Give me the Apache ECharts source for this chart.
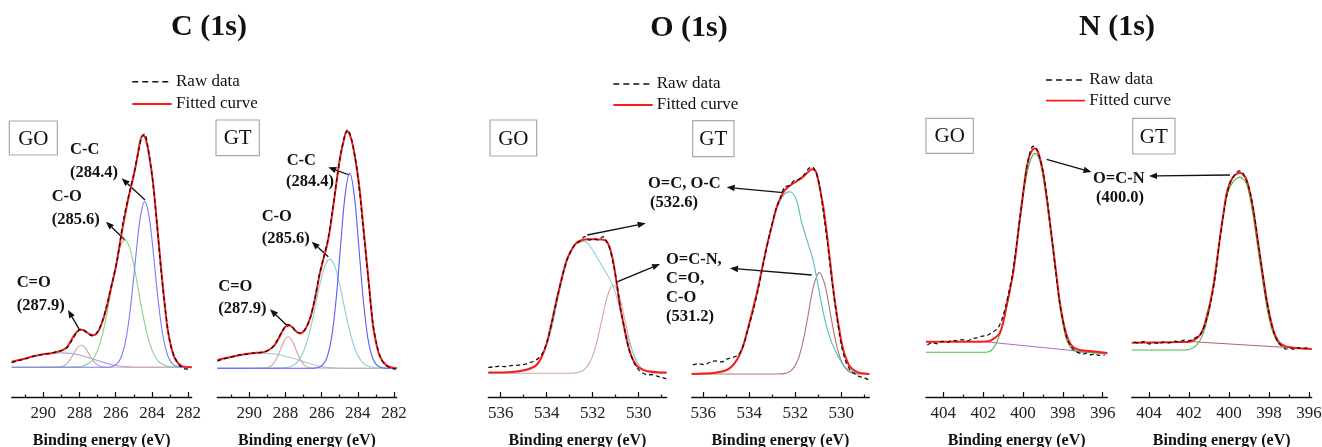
<!DOCTYPE html>
<html><head><meta charset="utf-8">
<script src="https://cdn.jsdelivr.net/npm/echarts@6/dist/echarts.min.js"></script>
<style>html,body{margin:0;padding:0;background:#fff}#c{width:1322px;height:447px}</style>
</head><body><div id="c"></div>
<script>
// ---------- tick labels ----------
const cMajor = [282, 284, 286, 288, 290];
const cMinor = [283, 285, 287, 289, 291];
const oMajor = [530, 532, 534, 536];
const oMinor = [529, 531, 533, 535];
const nMajor = [396, 398, 400, 402, 404];
const nMinor = [397, 399, 401, 403];

// ---------- C 1s, GO ----------
const cGO_fit = [[291.74,2.4],[291.0,3.8],[290.5,4.9],[290.0,5.6],[289.5,6.2],[289.0,7.2],[288.7,8.6],[288.45,11.8],[288.2,14.8],[287.95,16.3],[287.7,15.6],[287.45,14.3],[287.2,13.9],[286.95,15.8],[286.7,20.5],[286.5,26],[286.25,34.5],[286.0,43],[285.8,52],[285.6,61],[285.3,73],[285.0,83],[284.8,91],[284.65,97.5],[284.5,100],[284.35,98.5],[284.15,91],[283.95,80],[283.75,64],[283.55,47],[283.35,31],[283.15,17],[282.95,9],[282.75,4],[282.5,1.3],[282.25,0.3],[281.81,0]];
const cGO_raw = [[291.74,2.0],[291.4,2.8],[291.0,3.6],[290.6,4.6],[290.2,5.4],[289.8,5.8],[289.4,6.4],[289.0,7.2],[288.7,8.4],[288.4,11.8],[288.1,15.6],[287.85,16.4],[287.6,15.0],[287.3,13.6],[287.05,14.8],[286.8,18.5],[286.5,26.5],[286.2,36.5],[285.9,47],[285.6,62.5],[285.3,73.5],[285.0,83.5],[284.75,93],[284.55,99.5],[284.4,100.5],[284.25,96],[284.0,83],[283.75,64],[283.5,41.5],[283.25,24],[283.0,10.5],[282.75,4.5],[282.5,1.0],[282.25,-0.5],[282.0,-0.8],[281.85,-1.0]];
const cGO_CC = [[291.74,0],[286.4,0],[286.15,0.45],[285.9,1.7],[285.65,5.4],[285.4,13.7],[285.15,28.2],[284.9,47.2],[284.65,64.4],[284.4,71.4],[284.15,64.4],[283.9,47.2],[283.65,28.2],[283.4,13.7],[283.15,5.4],[282.9,1.7],[282.65,0.45],[282.4,0.1],[281.81,0]];
const cGO_CO = [[291.74,0],[288.0,0.2],[287.5,1.6],[287.25,3.6],[287.0,7.4],[286.75,13.7],[286.5,22.6],[286.25,33.3],[286.0,43.9],[285.75,51.9],[285.5,54.9],[285.25,51.9],[285.0,43.9],[284.75,33.3],[284.5,22.6],[284.25,13.7],[284.0,7.4],[283.75,3.6],[283.5,1.6],[283.0,0.2],[281.81,0]];
const cGO_CdO = [[291.74,0],[289.2,0.1],[288.9,0.6],[288.7,1.6],[288.5,3.5],[288.3,6.1],[288.1,8.6],[287.9,9.6],[287.7,8.6],[287.5,6.1],[287.3,3.5],[287.1,1.6],[286.9,0.6],[286.6,0.1],[281.81,0]];
const cGO_bg = [[291.74,2.4],[291.0,3.8],[290.5,4.8],[290.0,5.5],[289.5,6.0],[289.0,6.2],[288.5,6.0],[288.0,5.3],[287.5,4.2],[287.0,2.9],[286.5,1.7],[286.0,0.8],[285.5,0.3],[285.0,0.05],[284.5,0],[281.81,0]];

// ---------- C 1s, GT ----------
const cGT_fit = [[291.77,3.5],[291.0,4.8],[290.5,5.6],[290.0,6.2],[289.5,6.6],[289.2,6.8],[288.9,7.8],[288.6,9.8],[288.35,13],[288.1,16.5],[287.85,18.2],[287.6,17.2],[287.4,15.5],[287.2,14.7],[287.0,15.5],[286.8,18],[286.6,22],[286.35,30],[286.1,40],[285.85,47.5],[285.64,54],[285.4,66],[285.17,79],[285.0,88],[284.81,95],[284.6,100],[284.4,97.5],[284.26,93.4],[284.05,84],[283.88,74],[283.7,60],[283.52,46],[283.33,31],[283.15,17.5],[282.95,9.5],[282.78,5],[282.5,1.8],[282.23,0.6],[281.85,0]];
const cGT_raw = [[291.77,3.0],[291.45,3.9],[291.1,4.6],[290.75,5.2],[290.4,5.8],[290.05,6.0],[289.7,6.5],[289.35,6.7],[289.0,7.4],[288.7,9.0],[288.4,12.6],[288.15,16.0],[287.9,18.5],[287.65,17.6],[287.4,15.2],[287.15,14.9],[286.9,16.6],[286.65,20.8],[286.4,28.5],[286.15,38.5],[285.9,46.5],[285.65,54.5],[285.4,66.5],[285.15,80],[284.9,92],[284.7,98.5],[284.55,100.5],[284.35,96.5],[284.15,89],[283.95,78],[283.7,59],[283.45,40],[283.2,21],[282.95,9.8],[282.7,3.8],[282.45,1.2],[282.2,0.2],[281.9,-0.4]];
const cGT_CC = [[291.77,0],[286.45,0],[286.2,0.3],[285.95,1.3],[285.7,4.6],[285.45,12.9],[285.2,29.0],[284.95,51.8],[284.7,73.2],[284.45,82.2],[284.2,73.2],[283.95,51.8],[283.7,29.0],[283.45,12.9],[283.2,4.6],[282.95,1.3],[282.7,0.3],[282.45,0],[281.85,0]];
const cGT_CO = [[291.77,0],[288.05,0.2],[287.55,1.3],[287.3,3.0],[287.05,6.2],[286.8,11.5],[286.55,18.9],[286.3,27.9],[286.05,36.8],[285.8,43.5],[285.55,46],[285.3,43.5],[285.05,36.8],[284.8,27.9],[284.55,18.9],[284.3,11.5],[284.05,6.2],[283.8,3.0],[283.55,1.3],[283.05,0.2],[281.85,0]];
const cGT_CdO = [[291.77,0],[289.15,0.1],[288.85,0.8],[288.65,2.2],[288.45,4.8],[288.25,8.4],[288.05,11.9],[287.85,13.3],[287.65,11.9],[287.45,8.4],[287.25,4.8],[287.05,2.2],[286.85,0.8],[286.55,0.1],[281.85,0]];
const cGT_bg = [[291.77,3.5],[291.0,4.8],[290.5,5.6],[290.0,6.1],[289.5,6.4],[289.0,6.3],[288.5,5.9],[288.0,5.0],[287.5,4.0],[287.0,2.8],[286.5,1.6],[286.0,0.7],[285.5,0.2],[285.0,0],[281.85,0]];

// ---------- O 1s, GO ----------
const oGO_fit = [[536.54,0.5],[536.0,0.6],[535.5,1.0],[535.0,2.2],[534.7,3.8],[534.44,6.2],[534.2,13],[534.0,22.5],[533.8,37],[533.57,55],[533.35,71],[533.13,85],[532.9,93],[532.7,98],[532.45,100],[532.2,100.5],[531.9,100.5],[531.6,100.3],[531.47,100],[531.35,98],[531.25,94],[531.13,86],[531.03,76],[530.92,63],[530.81,50],[530.66,37],[530.52,25],[530.38,16],[530.24,10],[530.1,6],[529.95,3.8],[529.7,2],[529.5,1.3],[529.2,0.8],[528.78,0.5]];
const oGO_raw = [[536.54,4.5],[536.3,4.8],[536.05,5.4],[535.8,5.0],[535.55,5.8],[535.3,6.0],[535.05,6.4],[534.8,7.6],[534.55,9.2],[534.35,11.5],[534.15,16],[533.95,25.5],[533.75,40],[533.55,56],[533.3,74],[533.05,88],[532.8,96],[532.55,99],[532.35,102.5],[532.15,100],[531.95,101],[531.75,100],[531.55,102.5],[531.4,99],[531.25,93],[531.1,82],[530.95,68],[530.8,50],[530.6,32],[530.4,17],[530.2,8],[530.0,2.5],[529.8,0],[529.6,-1.2],[529.4,-1.0],[529.2,-2.2],[529.0,-3.0],[528.8,-4.2]];
const oGO_OC = [[536.54,0],[535.5,0.5],[535.0,1.5],[534.6,4],[534.3,10],[534.0,21],[533.75,36],[533.5,57],[533.2,79],[532.9,93],[532.6,98.5],[532.35,99],[532.1,95],[531.83,87.5],[531.4,75],[531.1,65],[530.8,47.5],[530.4,22.5],[529.95,5],[529.6,1],[529.2,0.2],[528.78,0]];
const oGO_OCN = [[536.54,0],[533.0,0],[532.85,0.2],[532.6,0.7],[532.35,2.9],[532.1,9.0],[531.85,21.5],[531.6,40.1],[531.35,58.4],[531.1,66.2],[530.85,58.4],[530.6,40.1],[530.35,21.5],[530.1,9.0],[529.85,2.9],[529.6,0.7],[529.35,0.2],[528.78,0]];

// ---------- O 1s, GT ----------
const oGT_fit = [[536.5,0],[536.0,0.2],[535.5,0.6],[535.0,1.8],[534.75,3.8],[534.54,6.8],[534.3,12.5],[534.11,19.9],[533.9,29],[533.67,39.4],[533.45,51],[533.24,62.2],[533.0,73],[532.8,81.7],[532.6,87],[532.44,89.9],[532.25,91.8],[532.08,93.2],[531.85,94.8],[531.65,96.4],[531.45,98.5],[531.28,100],[531.15,99.5],[531.07,98],[530.95,92],[530.85,86],[530.78,81.7],[530.63,69],[530.49,55.7],[530.35,42],[530.2,29.7],[530.05,19.5],[529.91,11.7],[529.75,6.5],[529.62,3.6],[529.4,1.5],[529.18,0.5],[528.78,0]];
const oGT_raw = [[536.45,4.4],[536.2,5.0],[535.95,4.6],[535.7,5.8],[535.45,6.4],[535.2,5.9],[534.95,7.4],[534.7,8.2],[534.47,9.3],[534.25,14],[534.05,22],[533.85,30],[533.6,42],[533.35,56],[533.1,69],[532.85,80],[532.65,86],[532.45,91.5],[532.25,92],[532.05,94.5],[531.85,95],[531.6,97.5],[531.4,100.5],[531.25,101],[531.1,98.5],[530.95,92.5],[530.8,81],[530.6,64],[530.4,45],[530.2,28.5],[530.0,14.5],[529.8,6],[529.6,1.8],[529.4,0],[529.2,-1.3],[529.0,-1.8],[528.8,-2.9]];
const oGT_OC = [[536.5,0],[535.5,0.5],[535.0,2],[534.54,6.5],[534.11,19.5],[533.67,39],[533.24,62],[532.8,81],[532.5,87.5],[532.23,89],[531.95,85],[531.72,74],[531.45,64],[531.21,55],[530.78,30],[530.5,18],[530.2,10],[529.85,3.5],[529.5,1],[529.0,0.2],[528.78,0]];
const oGT_OCN = [[536.5,0],[532.7,0],[532.45,0.3],[532.2,1.4],[531.95,5.2],[531.7,13.9],[531.45,28.1],[531.2,43],[530.95,49.5],[530.7,43],[530.45,28.1],[530.2,13.9],[529.95,5.2],[529.7,1.4],[529.45,0.3],[529.2,0],[528.78,0]];

// ---------- N 1s, GO ----------
const nGO_fit = [[404.87,5.2],[403.5,5.2],[402.5,5.2],[401.9,5.3],[401.67,5.6],[401.4,7.2],[401.17,9.3],[401.0,14.5],[400.84,22.4],[400.67,30],[400.5,38.7],[400.33,51],[400.17,64.8],[400.0,77.5],[399.84,89.3],[399.7,95.5],[399.59,98.3],[399.42,100],[399.3,99],[399.17,96],[399.0,88.5],[398.84,78],[398.67,65],[398.5,51.8],[398.33,38.5],[398.17,25.6],[398.0,16],[397.84,9.3],[397.67,5],[397.5,2.7],[397.2,1.3],[396.84,0.8],[396.3,0.3],[395.77,-0.3]];
const nGO_raw = [[404.8,3.6],[404.55,4.8],[404.3,4.2],[404.05,5.4],[403.8,4.9],[403.55,5.9],[403.3,5.5],[403.05,6.2],[402.8,5.6],[402.55,6.6],[402.3,7.2],[402.05,7.9],[401.8,8.3],[401.55,9.8],[401.3,11.5],[401.1,15],[400.9,21.5],[400.7,30],[400.5,40],[400.3,55],[400.1,70],[399.9,85],[399.7,96],[399.5,101],[399.35,100.5],[399.2,96.5],[399.0,89],[398.8,76],[398.6,60],[398.4,43],[398.2,27],[398.0,15.5],[397.8,7],[397.6,3],[397.4,0.8],[397.2,-0.3],[397.0,-0.9],[396.8,-0.4],[396.6,-1.2],[396.4,-0.8],[396.2,-1.5],[395.9,-1.4]];
const nGO_OCN = [[404.87,0],[402.5,0],[401.9,0.05],[401.67,0.4],[401.5,2],[401.34,4.4],[401.17,8.8],[401.0,14.2],[400.84,21],[400.67,29],[400.5,40],[400.34,51.8],[400.13,66],[399.92,81.2],[399.75,90],[399.59,95],[399.42,97.5],[399.3,97],[399.17,94.3],[399.0,86.5],[398.84,76.3],[398.67,63.5],[398.5,50.2],[398.33,37],[398.17,24],[398.0,14],[397.84,6.9],[397.67,3.2],[397.5,1.1],[397.2,0.2],[396.84,0],[396.3,-0.3],[395.77,-0.6]];
const nGO_bg = [[401.9,5.2],[395.77,-0.8]];

// ---------- N 1s, GT ----------
const nGT_fit = [[404.87,4.1],[403.5,4.3],[402.5,4.5],[401.96,4.7],[401.7,6],[401.45,8.5],[401.28,12.5],[401.12,18.8],[400.95,26.5],[400.79,35.7],[400.62,49],[400.45,63.9],[400.28,77],[400.12,88.4],[399.95,94.5],[399.79,97.7],[399.62,99.3],[399.45,100],[399.28,98.7],[399.12,95.9],[398.95,88.5],[398.79,79],[398.62,66],[398.45,52.6],[398.28,40],[398.12,28.2],[397.95,18.5],[397.79,11.3],[397.62,6.5],[397.45,3.8],[397.2,2.2],[396.95,1.5],[396.5,1.0],[395.87,0.6]];
const nGT_raw = [[404.75,4.5],[404.5,3.9],[404.25,4.8],[404.0,3.4],[403.75,4.2],[403.5,3.6],[403.25,4.6],[403.0,4.0],[402.75,5.0],[402.5,4.6],[402.25,5.6],[402.0,5.2],[401.75,6.6],[401.5,8.0],[401.3,11.5],[401.1,18.5],[400.9,28],[400.7,41],[400.5,59],[400.3,75],[400.1,88],[399.9,95.5],[399.7,99],[399.5,101],[399.35,100.5],[399.15,96],[398.95,89],[398.75,77],[398.55,61],[398.35,45],[398.15,30],[397.95,18],[397.75,9.5],[397.55,4.5],[397.35,2],[397.15,0.5],[396.95,1.2],[396.75,0.3],[396.55,1.4],[396.35,0.6],[396.15,1.2],[395.95,0.2]];
const nGT_OCN = [[404.87,0],[402.5,0],[402.1,0.1],[401.96,0.4],[401.8,1.2],[401.62,2.8],[401.45,5.5],[401.29,9.4],[401.12,16],[400.95,24.4],[400.79,37],[400.62,50.8],[400.41,67],[400.2,82.8],[400.0,91],[399.79,95],[399.62,96.8],[399.45,97.5],[399.28,96.3],[399.12,93.6],[398.95,85.5],[398.79,75.2],[398.62,62],[398.45,48.9],[398.28,36],[398.12,24.4],[397.95,15.5],[397.79,9.4],[397.62,5.2],[397.45,2.8],[397.2,1.8],[396.95,1.5],[396.5,1.0],[395.87,0.6]];
const nGT_bg = [[402.0,4.8],[395.87,0.6]];

// ---------- layout ----------
const chart = echarts.init(document.getElementById('c'));
const SERIF = '"Liberation Serif","Times New Roman",serif';
const AXIS_Y = 397;
const panels = [
  {left:11.7, right:191.7, xmin:281.81, xmax:291.74, top:112.1, ymin:-12.8, major:cMajor, minor:cMinor,
   comps:[[cGO_bg,'#a6a6e4'],[cGO_CdO,'#d6a2a2'],[cGO_CO,'#8fcf8f'],[cGO_CC,'#7b7bff']], fit:cGO_fit, raw:cGO_raw},
  {left:217.3, right:396.7, xmin:281.85, xmax:291.77, top:107.3, ymin:-12.1, major:cMajor, minor:cMinor,
   comps:[[cGT_bg,'#9fcfcf'],[cGT_CdO,'#d2a2a2'],[cGT_CO,'#8fd0d0'],[cGT_CC,'#5a5aff']], fit:cGT_fit, raw:cGT_raw},
  {left:488.3, right:666.7, xmin:528.78, xmax:536.54, top:226.7, ymin:-17.8, major:oMajor, minor:oMinor,
   comps:[[oGO_OCN,'#d2a8a8'],[oGO_OC,'#8fd3d3']], fit:oGO_fit, raw:oGO_raw},
  {left:691.7, right:869.3, xmin:528.78, xmax:536.5, top:148.8, ymin:-11.24, major:oMajor, minor:oMinor,
   comps:[[oGT_OCN,'#b07575'],[oGT_OC,'#5fb8c0']], fit:oGT_fit, raw:oGT_raw},
  {left:926, right:1107.3, xmin:395.77, xmax:404.87, top:127.9, ymin:-21.9, major:nMajor, minor:nMinor,
   comps:[[nGO_bg,'#b26ad0'],[nGO_OCN,'#4cb84c']], fit:nGO_fit, raw:nGO_raw},
  {left:1131.7, right:1311.7, xmin:395.87, xmax:404.87, top:155, ymin:-26.5, major:nMajor, minor:nMinor,
   comps:[[nGT_bg,'#b06565'],[nGT_OCN,'#4cb84c']], fit:nGT_fit, raw:nGT_raw}
];

const grid = [], xAxis = [], yAxis = [], series = [];
panels.forEach((p, i) => {
  grid.push({left:p.left, top:p.top, width:p.right - p.left, height:AXIS_Y - p.top, containLabel:false, outerBoundsMode:'none'});
  xAxis.push({type:'value', gridIndex:i, min:p.xmin, max:p.xmax, inverse:true, position:'bottom',
    name:'Binding energy (eV)', nameLocation:'middle', nameGap:35.5,
    nameTextStyle:{fontFamily:SERIF, fontWeight:'bold', fontSize:16, color:'#111'},
    axisLine:{show:true, onZero:false, lineStyle:{color:'#111', width:1.3}},
    axisTick:{show:true, inside:true, length:5, lineStyle:{color:'#111', width:1.2}, customValues:p.major},
    axisLabel:{show:true, margin:8, fontFamily:SERIF, fontSize:17, color:'#222', customValues:p.major},
    splitLine:{show:false}});
  xAxis.push({type:'value', gridIndex:i, min:p.xmin, max:p.xmax, inverse:true, position:'bottom',
    axisLine:{show:false, onZero:false},
    axisTick:{show:true, inside:true, length:2.5, lineStyle:{color:'#111', width:1.2}, customValues:p.minor},
    axisLabel:{show:false}, splitLine:{show:false}});
  yAxis.push({type:'value', gridIndex:i, min:p.ymin, max:110, show:false, splitLine:{show:false}});
  const xi = i * 2;
  p.comps.forEach(([d, col]) => series.push({type:'line', xAxisIndex:xi, yAxisIndex:i, data:d, symbol:'none',
    smooth:0.35, clip:false, silent:true, lineStyle:{color:col, width:1.1}}));
  series.push({type:'line', name:'Fitted curve', xAxisIndex:xi, yAxisIndex:i, data:p.fit, symbol:'none',
    smooth:0.35, clip:false, silent:true, lineStyle:{color:'#ff1a1a', width:2}});
  series.push({type:'line', name:'Raw data', xAxisIndex:xi, yAxisIndex:i, data:p.raw, symbol:'none',
    smooth:0.3, clip:false, silent:true, lineStyle:{color:'#111', width:1.3, type:[4,3]}});
});

// ---------- graphic: titles, legends, boxes, annotations ----------
const g = [];
function txt(x, y, s, size, bold, align) {
  g.push({type:'text', x:x, y:y, style:{text:s, fill:'#111', font:(bold?'bold ':'') + size + 'px ' + SERIF,
    textAlign:align || 'left', textVerticalAlign:'middle'}, silent:true});
}
function box(x1, y1, x2, y2, label) {
  g.push({type:'rect', shape:{x:x1, y:y1, width:x2 - x1, height:y2 - y1},
    style:{fill:'#fff', stroke:'#a8a8a8', lineWidth:1.2}, silent:true});
  txt((x1 + x2) / 2, (y1 + y2) / 2 + 1, label, 21, false, 'center');
}
function arrow(x1, y1, x2, y2) {
  const dx = x2 - x1, dy = y2 - y1, L = Math.hypot(dx, dy), ux = dx / L, uy = dy / L;
  const hl = 8, hw = 3.2, bx = x2 - ux * hl, by = y2 - uy * hl;
  g.push({type:'line', shape:{x1:x1, y1:y1, x2:bx, y2:by}, style:{stroke:'#111', lineWidth:1.3}, silent:true});
  g.push({type:'polygon', shape:{points:[[x2, y2],[bx - uy * hw, by + ux * hw],[bx + uy * hw, by - ux * hw]]},
    style:{fill:'#111'}, silent:true});
}
function legend(x1, x2, y1, y2, tx) {
  g.push({type:'line', shape:{x1:x1, y1:y1, x2:x2 - 3, y2:y1}, style:{stroke:'#111', lineWidth:1.5, lineDash:[6,4]}, silent:true});
  g.push({type:'line', shape:{x1:x1, y1:y2, x2:x2, y2:y2}, style:{stroke:'#ff1a1a', lineWidth:1.8}, silent:true});
  txt(tx, y1, 'Raw data', 17, false);
  txt(tx, y2, 'Fitted curve', 17, false);
}
txt(209, 27, 'C (1s)', 30, true, 'center');
txt(689, 28, 'O (1s)', 30, true, 'center');
txt(1117, 27, 'N (1s)', 30, true, 'center');
legend(132.3, 171.7, 81.7, 104, 176);
legend(613.3, 652.7, 84, 105, 656.7);
legend(1046, 1085, 80, 100.7, 1089.3);
box(9.3, 121, 57.3, 155, 'GO');
box(216, 120, 259.3, 155.7, 'GT');
box(490, 120, 536.7, 156, 'GO');
box(692.7, 120.7, 734, 156.7, 'GT');
box(926, 118.3, 973.3, 153.3, 'GO');
box(1132.7, 118.3, 1175, 154, 'GT');
// C GO
txt(70, 150, 'C-C', 16.5, true); txt(70, 173, '(284.4)', 16.5, true); arrow(145, 200, 121.7, 178.3);
txt(51.7, 197, 'C-O', 16.5, true); txt(51.7, 220, '(285.6)', 16.5, true); arrow(125, 240, 106, 221.7);
txt(16.7, 283, 'C=O', 16.5, true); txt(16.7, 306, '(287.9)', 16.5, true); arrow(80, 330.7, 68, 310);
// C GT
txt(286.7, 161, 'C-C', 16.5, true); txt(286, 182, '(284.4)', 16.5, true); arrow(349.3, 175, 328.3, 167.3);
txt(261.7, 217, 'C-O', 16.5, true); txt(261.7, 239, '(285.6)', 16.5, true); arrow(328.3, 256.7, 311.7, 241.7);
txt(218.3, 287, 'C=O', 16.5, true); txt(218.3, 309, '(287.9)', 16.5, true); arrow(288.3, 326.7, 270, 309.3);
// O
txt(648, 183.5, 'O=C, O-C', 16.5, true); txt(650, 203, '(532.6)', 16.5, true);
arrow(587.3, 235, 645.7, 223.3); arrow(783.3, 192.7, 726.7, 187.3);
txt(666, 260, 'O=C-N,', 16.5, true); txt(666, 279, 'C=O,', 16.5, true); txt(666, 298, 'C-O', 16.5, true); txt(666, 317, '(531.2)', 16.5, true);
arrow(617.7, 281.7, 660, 264); arrow(811.7, 275, 730, 268.3);
// N
txt(1093, 179, 'O=C-N', 16.5, true); txt(1096, 197.5, '(400.0)', 16.5, true);
arrow(1046.7, 159.3, 1091.5, 172); arrow(1230, 175, 1149, 176);

chart.setOption({animation:false, backgroundColor:'#fff', grid, xAxis, yAxis, series, graphic:g});
</script>
</body></html>
